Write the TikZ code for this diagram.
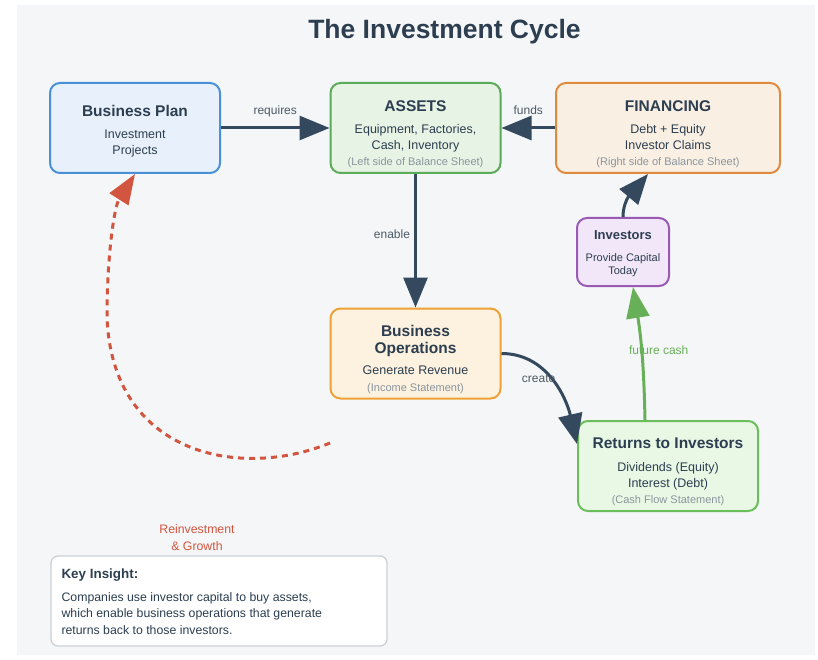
\documentclass[tikz,border=0pt]{standalone}
\usepackage{fontspec}
\setmainfont{Liberation Sans}
\usetikzlibrary{arrows.meta,positioning,calc}

\definecolor{ink}{HTML}{2C3E50}
\definecolor{slate}{HTML}{34495E}
\definecolor{mute}{HTML}{8A959E}
\definecolor{lblgray}{HTML}{4D5A66}
\definecolor{canvas}{HTML}{F4F6F7}
\definecolor{planline}{HTML}{4A90D9}
\definecolor{planfill}{HTML}{E8F1FB}
\definecolor{assetline}{HTML}{5AAB5A}
\definecolor{assetfill}{HTML}{E7F3E4}
\definecolor{finline}{HTML}{E08A3E}
\definecolor{finfill}{HTML}{F9EFE3}
\definecolor{invline}{HTML}{9B59B6}
\definecolor{invfill}{HTML}{F2E7F8}
\definecolor{opsline}{HTML}{EEA236}
\definecolor{opsfill}{HTML}{FDF1DF}
\definecolor{retline}{HTML}{6ABF5C}
\definecolor{retfill}{HTML}{E9F8E5}
\definecolor{keyline}{HTML}{CDD2D6}
\definecolor{reinv}{HTML}{D2553F}
\definecolor{cash}{HTML}{68B058}

\newcommand\cardtitle[1]{{\fontsize{15.5}{17}\selectfont\bfseries #1}}
\newcommand\cardnote[1]{{\fontsize{11}{13}\selectfont\color{mute}#1}}

\begin{document}
\begin{tikzpicture}[x=1pt, y=1pt,
    box/.style={draw, rounded corners=10pt, line width=2pt, inner sep=0pt,
      minimum width=170pt, minimum height=90pt},
    txt/.style={anchor=north, align=center, inner sep=0pt, text=ink,
      font=\fontsize{12.5}{16.2}\selectfont},
    lbl/.style={font=\fontsize{12}{14}\selectfont, text=lblgray,
      inner sep=0pt, text depth=0pt},
    arr/.style={-{Triangle[length=30pt,width=24pt]}, line width=3pt, draw=slate}
  ]
  \fill[white] (0,0) rectangle (818,-660);
  \fill[canvas] (17,-5) rectangle (815,-655);
  \useasboundingbox (0,0) rectangle (818,-660);

  \node[font=\fontsize{26.5}{30}\selectfont\bfseries, text=ink, anchor=base]
    (title) at (444.5,-39) {The Investment Cycle};

  % boxes
  \node[box, draw=planline, fill=planfill] (plan) at (135,-128) {};
  \node[box, draw=assetline, fill=assetfill, right=108.5pt of plan] (assets) {};
  \node[box, draw=finline, fill=finfill, minimum width=224pt,
    right=53.5pt of assets] (fin) {};
  \node[box, draw=opsline, fill=opsfill, below=133.5pt of assets] (ops) {};
  \node[box, draw=invline, fill=invfill, minimum width=92pt,
    minimum height=68pt] (inv) at (623,-252) {};
  \node[box, draw=retline, fill=retfill, minimum width=180pt] (ret) at (668,-466) {};
  \node[box, draw=keyline, fill=white, line width=1.3pt, rounded corners=7pt,
    minimum width=336pt] (key) at (219,-601) {};

  % box texts
  \node[txt] (plan-txt) at ([yshift=-23pt]plan.north)
    {\cardtitle{Business Plan}\\[5.8pt]Investment\\Projects};
  \node[txt] (assets-txt) at ([yshift=-18pt]assets.north)
    {\cardtitle{ASSETS}\\[6pt]Equipment, Factories,\\Cash, Inventory\\
     \cardnote{(Left side of Balance Sheet)}};
  \node[txt] (fin-txt) at ([yshift=-18pt]fin.north)
    {\cardtitle{FINANCING}\\[6pt]Debt + Equity\\Investor Claims\\
     \cardnote{(Right side of Balance Sheet)}};
  \node[txt] (ops-txt) at ([yshift=-18pt]ops.north)
    {\cardtitle{Business}\\[0.8pt]\cardtitle{Operations}\\[4.8pt]Generate Revenue\\[0.8pt]
     \cardnote{(Income Statement)}};
  \node[txt, font=\fontsize{11}{12.7}\selectfont] (inv-txt) at ([yshift=-13pt]inv.north)
    {{\fontsize{13}{15}\selectfont\bfseries Investors}\\[9.6pt]Provide Capital\\Today};
  \node[txt] (ret-txt) at ([yshift=-18pt]ret.north)
    {\cardtitle{Returns to Investors}\\[6.5pt]Dividends (Equity)\\Interest (Debt)\\
     \cardnote{(Cash Flow Statement)}};
  \node[anchor=north west, align=left, inner sep=0pt, text=ink,
    font=\fontsize{12.3}{16.6}\selectfont] (key-txt)
    at ([xshift=11pt,yshift=-13.7pt]key.north west)
    {{\fontsize{13.4}{15}\selectfont\bfseries Key Insight:}\\[5.8pt]
     Companies use investor capital to buy assets,\\
     which enable business operations that generate\\
     returns back to those investors.};
  \node[font=\fontsize{12.3}{17.5}\selectfont, text=reinv, align=center,
    anchor=north, inner sep=0pt] (reinv-lbl) at (197,-524.2)
    {Reinvestment\\\& Growth};

  % connectors
  \draw[arr] (plan) -- node[lbl, above=12pt] {requires} (assets);
  \draw[arr] (fin) -- node[lbl, above=12pt] {funds} (assets);
  \draw[arr] (assets) -- node[lbl, left=4pt, pos=0.45] {enable} (ops);
  \draw[arr] (ops.east) to[out=0, in=103]
    node[lbl, xshift=-14pt, yshift=3pt] {create} ([yshift=-24pt]ret.north west);
  \draw[arr] (inv.north) to[out=90, in=-130] ([xshift=-20pt]fin.south);
  \draw[arr, draw=cash, -{Triangle[length=31pt,width=23pt]}]
    ([xshift=-23pt]ret.north) to[bend right=4]
    node[lbl, text=cash, xshift=17pt, yshift=3pt] {future cash} ([xshift=10pt]inv.south);

  \coordinate (loop-start) at (330,-443);
  \draw[arr, draw=reinv, -{Triangle[length=30pt,width=22pt]},
    dash pattern=on 6pt off 5pt] (loop-start)
    .. controls (240,-480) and (112,-455) .. (107,-317)
    .. controls (107,-257) and (114,-207) .. (plan.south);
\end{tikzpicture}
\end{document}
